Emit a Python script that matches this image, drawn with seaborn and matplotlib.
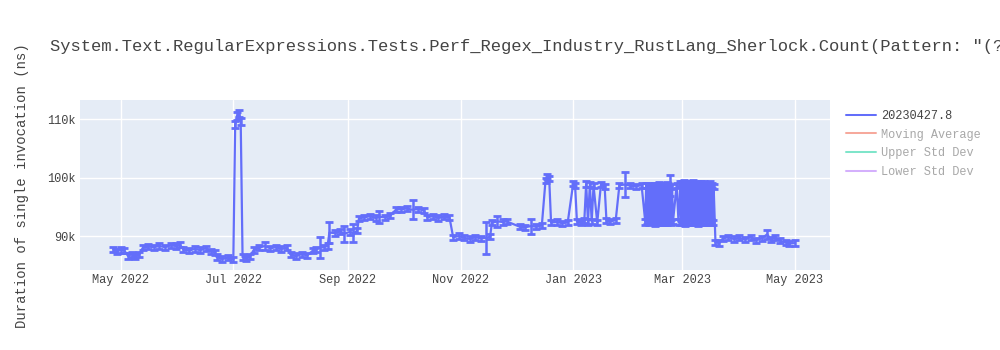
import numpy as np
import pandas as pd
import matplotlib
matplotlib.use("Agg")
import matplotlib.pyplot as plt
import matplotlib.dates as mdates
from matplotlib.lines import Line2D
from matplotlib.ticker import FuncFormatter
import seaborn as sns

# ---------------- data ----------------
run_dates = [
    # Apr - Jul 2022
    "2022-04-27", "2022-04-29", "2022-05-01", "2022-05-03", "2022-05-05", "2022-05-07", "2022-05-09", "2022-05-11",
    "2022-05-13", "2022-05-16", "2022-05-19", "2022-05-22", "2022-05-25", "2022-05-28", "2022-05-31", "2022-06-02",
    "2022-06-04", "2022-06-07", "2022-06-10", "2022-06-13", "2022-06-16", "2022-06-19", "2022-06-21", "2022-06-22",
    "2022-06-25", "2022-06-28", "2022-07-01", "2022-07-02", "2022-07-03", "2022-07-04", "2022-07-05", "2022-07-06",
    # Jul - Sep 2022
    "2022-07-08", "2022-07-10", "2022-07-12", "2022-07-15", "2022-07-18", "2022-07-21", "2022-07-24", "2022-07-27",
    "2022-07-30", "2022-08-01", "2022-08-04", "2022-08-07", "2022-08-10", "2022-08-13", "2022-08-15", "2022-08-17",
    "2022-08-19", "2022-08-21", "2022-08-22", "2022-08-25", "2022-08-28", "2022-08-30", "2022-09-02", "2022-09-04",
    "2022-09-06", "2022-09-07", "2022-09-10", "2022-09-13", "2022-09-16", "2022-09-18", "2022-09-21", "2022-09-24",
    # Sep - Dec 2022
    "2022-09-27", "2022-09-30", "2022-10-03", "2022-10-06", "2022-10-09", "2022-10-12", "2022-10-14", "2022-10-17",
    "2022-10-20", "2022-10-23", "2022-10-26", "2022-10-28", "2022-10-31", "2022-11-03", "2022-11-06", "2022-11-09",
    "2022-11-12", "2022-11-15", "2022-11-17", "2022-11-18", "2022-11-21", "2022-11-24", "2022-11-26", "2022-12-03",
    "2022-12-06", "2022-12-09", "2022-12-12", "2022-12-15", "2022-12-17", "2022-12-18", "2022-12-19", "2022-12-20",
    # Dec 2022 - Feb 2023
    "2022-12-23", "2022-12-26", "2022-12-29", "2023-01-01", "2023-01-02", "2023-01-03", "2023-01-05", "2023-01-07",
    "2023-01-08", "2023-01-09", "2023-01-10", "2023-01-11", "2023-01-12", "2023-01-14", "2023-01-16", "2023-01-18",
    "2023-01-19", "2023-01-21", "2023-01-24", "2023-01-26", "2023-01-29", "2023-02-01", "2023-02-04", "2023-02-07",
    # Feb 2023 (dense)
    "2023-02-09", "2023-02-09T12", "2023-02-10", "2023-02-10T12", "2023-02-11", "2023-02-11T12",
    "2023-02-12", "2023-02-12T12", "2023-02-13", "2023-02-13T12", "2023-02-14", "2023-02-14T12",
    "2023-02-15", "2023-02-15T12", "2023-02-16", "2023-02-16T12", "2023-02-17", "2023-02-17T12",
    "2023-02-18", "2023-02-18T12", "2023-02-19", "2023-02-19T12", "2023-02-20", "2023-02-20T12",
    "2023-02-21", "2023-02-21T12", "2023-02-22", "2023-02-22T12", "2023-02-23", "2023-02-23T12",
    "2023-02-24", "2023-02-26", "2023-02-27",
    # Mar 2023 (dense)
    "2023-02-28", "2023-02-28T12", "2023-03-01", "2023-03-01T12", "2023-03-02", "2023-03-02T12",
    "2023-03-03", "2023-03-03T12", "2023-03-04", "2023-03-04T12", "2023-03-05", "2023-03-05T12",
    "2023-03-06", "2023-03-06T12", "2023-03-07", "2023-03-07T12", "2023-03-08", "2023-03-08T12",
    "2023-03-09", "2023-03-09T12", "2023-03-10", "2023-03-10T12", "2023-03-11", "2023-03-11T12",
    "2023-03-12", "2023-03-12T12", "2023-03-13", "2023-03-13T12", "2023-03-14", "2023-03-14T12",
    "2023-03-15", "2023-03-15T12", "2023-03-16", "2023-03-16T12", "2023-03-17", "2023-03-17T12",
    "2023-03-18",
    # Mar - May 2023
    "2023-03-19", "2023-03-21", "2023-03-23", "2023-03-26", "2023-03-29", "2023-04-01", "2023-04-04", "2023-04-07",
    "2023-04-10", "2023-04-13", "2023-04-16", "2023-04-18", "2023-04-20", "2023-04-23", "2023-04-26", "2023-04-28",
    "2023-05-01",
]

duration_ns = [
    # Apr - Jul 2022
    87700, 87400, 87600, 87500, 86600, 86900, 86500, 86800,
    88000, 88200, 88100, 88300, 88100, 88400, 88300, 88500,
    87700, 87500, 87800, 87600, 87900, 87400, 87200, 86400,
    86100, 86300, 86000, 109000, 110500, 111000, 109500, 86400,
    # Jul - Sep 2022
    86200, 86500, 87600, 88000, 88300, 87900, 88100, 87800,
    88000, 86800, 86600, 86900, 86700, 87500, 87700, 88000,
    88100, 88300, 90600, 90500, 90800, 90400, 90700, 90500,
    90900, 93000, 93200, 93400, 93100, 93300, 93200, 93500,
    # Sep - Dec 2022
    94500, 94600, 94700, 94500, 94600, 94400, 93200, 93400,
    93100, 93300, 93200, 89800, 90000, 89700, 89500, 89800,
    89600, 89700, 89900, 92300, 92500, 92400, 92500, 91600,
    91500, 91700, 91600, 91800, 99500, 100200, 99800, 92300,
    # Dec 2022 - Feb 2023
    92400, 92200, 92300, 99000, 98700, 92500, 92300, 92600,
    98900, 92400, 98800, 92500, 98600, 92300, 98800, 98500,
    92600, 92500, 92700, 98700, 98800, 98600, 98500, 98700,
    # Feb 2023 (dense)
    92400, 98700, 92500, 98600, 92300, 98500,
    92600, 98400, 92500, 98700, 92200, 98600,
    92400, 98500, 92300, 98800, 92500, 98600,
    92400, 98700, 92300, 98500, 92600, 98800,
    92400, 98600, 92500, 98600, 92300, 98500,
    92500, 98700, 92400,
    # Mar 2023 (dense)
    99000, 92300, 98900, 92500, 99100, 92200,
    98800, 92400, 99000, 92300, 98700, 92500,
    98900, 92400, 99100, 92300, 98800, 92500,
    99000, 92200, 98600, 92400, 98900, 92300,
    98700, 92500, 99000, 92400, 98800, 92300,
    98600, 92500, 98900, 92400, 98700, 92300,
    98500,
    # Mar - May 2023
    88900, 88800, 89600, 89800, 89500, 89700, 89400, 89800,
    89300, 89600, 90300, 89400, 89800, 89200, 88900, 88700,
    88800,
]

std_err_ns = [
    # Apr - Jul 2022
    450, 450, 450, 450, 450, 450, 450, 450,
    450, 450, 450, 450, 450, 450, 450, 450,
    450, 450, 450, 450, 450, 450, 450, 450,
    450, 450, 450, 600, 700, 600, 600, 450,
    # Jul - Sep 2022
    450, 450, 450, 450, 650, 450, 450, 450,
    450, 450, 450, 450, 450, 450, 450, 1800,
    450, 450, 1800, 450, 450, 1400, 450, 1500,
    450, 450, 450, 450, 450, 1000, 450, 450,
    # Sep - Dec 2022
    450, 450, 450, 1600, 450, 450, 450, 450,
    450, 450, 450, 450, 450, 450, 450, 450,
    450, 2700, 450, 450, 900, 450, 450, 450,
    450, 1300, 450, 450, 450, 450, 450, 450,
    # Dec 2022 - Feb 2023
    450, 450, 450, 450, 450, 450, 450, 450,
    450, 450, 450, 450, 450, 450, 450, 450,
    450, 450, 450, 450, 2200, 450, 450, 450,
    # Feb 2023 (dense)
    450, 450, 450, 450, 450, 450,
    450, 450, 450, 450, 450, 450,
    450, 450, 450, 450, 450, 450,
    450, 450, 450, 450, 450, 450,
    450, 450, 450, 1800, 450, 450,
    450, 450, 450,
    # Mar 2023 (dense)
    450, 450, 450, 450, 450, 450,
    450, 450, 450, 450, 450, 450,
    450, 450, 450, 450, 450, 450,
    450, 450, 450, 450, 450, 450,
    450, 450, 450, 450, 450, 450,
    450, 450, 450, 450, 450, 450,
    450,
    # Mar - May 2023
    450, 450, 450, 450, 450, 450, 450, 450,
    450, 450, 800, 450, 450, 450, 450, 450,
    450,
]

series_name = "20230427.8"
legend_labels = [series_name, "Moving Average", "Upper Std Dev", "Lower Std Dev"]
title_text = ('System.Text.RegularExpressions.Tests.Perf_Regex_Industry_RustLang_Sherlock.Count'
              '(Pattern: "(?i)Sherlock|Holmes|Watson|Irene|Adler|John|Baker", Options: Compiled)')
y_label = "Duration of single invocation (ns)"
y_ticks = [90000, 100000, 110000]

# ---------------- styling ----------------
sns.set_theme(style="white")
plt.rcParams["font.family"] = ["Liberation Mono", "DejaVu Sans Mono"]

BLUE = "#636EFA"
TXT = "#444444"
BG = "#E5ECF6"

df = pd.DataFrame({"date": pd.to_datetime(run_dates, format="ISO8601"),
                   "duration": duration_ns, "err": std_err_ns})

fig = plt.figure(figsize=(10, 3.5), dpi=100)
fig.patch.set_facecolor("white")
ax = fig.add_axes([0.08, 1 - 270 / 350, 0.75, 170 / 350])
ax.set_facecolor(BG)

ax.errorbar(df["date"], df["duration"], yerr=df["err"], fmt="none", ecolor=BLUE,
            elinewidth=1.8, capsize=2.9, capthick=2.0, zorder=3)
sns.lineplot(data=df, x="date", y="duration", ax=ax, color=BLUE, linewidth=1.6,
             legend=False, zorder=4, estimator=None, sort=False)

ax.set_xlim(pd.Timestamp("2022-04-09"), pd.Timestamp("2023-05-20"))
ax.set_ylim(84200, 113250)
ax.set_yticks(y_ticks)
ax.yaxis.set_major_formatter(FuncFormatter(lambda v, p: f"{int(round(v / 1000))}k"))
ax.xaxis.set_major_locator(mdates.MonthLocator(bymonth=[1, 3, 5, 7, 9, 11]))
ax.xaxis.set_major_formatter(mdates.DateFormatter("%b %Y"))
ax.grid(True, color="white", linewidth=1.0)
ax.set_axisbelow(True)
for s in ax.spines.values():
    s.set_visible(False)
ax.tick_params(axis="both", length=0, labelsize=8.6, colors=TXT, pad=3)
ax.set_xlabel("")
ax.set_ylabel("")

fig.text(0.05, 1 - 47 / 350, title_text, fontsize=12.3, color=TXT, ha="left", va="center")
fig.text(0.022, 1 - 186 / 350, y_label, fontsize=10, color=TXT, rotation=90, ha="center", va="center")

handles = [
    Line2D([], [], color=BLUE, linewidth=1.45),
    Line2D([], [], color="#EF553B", alpha=0.5, linewidth=1.45),
    Line2D([], [], color="#00CC96", alpha=0.5, linewidth=1.45),
    Line2D([], [], color="#AB63FA", alpha=0.5, linewidth=1.45),
]
leg = fig.legend(handles, legend_labels, loc="upper left", bbox_to_anchor=(0.846, 1 - 110 / 350),
                 frameon=False, fontsize=8.6, handlelength=2.5, handletextpad=0.45,
                 labelspacing=0.55, borderpad=0, borderaxespad=0)
for i, t in enumerate(leg.get_texts()):
    t.set_color(TXT if i == 0 else "#A8A8A8")

fig.savefig("out.png", dpi=100)
